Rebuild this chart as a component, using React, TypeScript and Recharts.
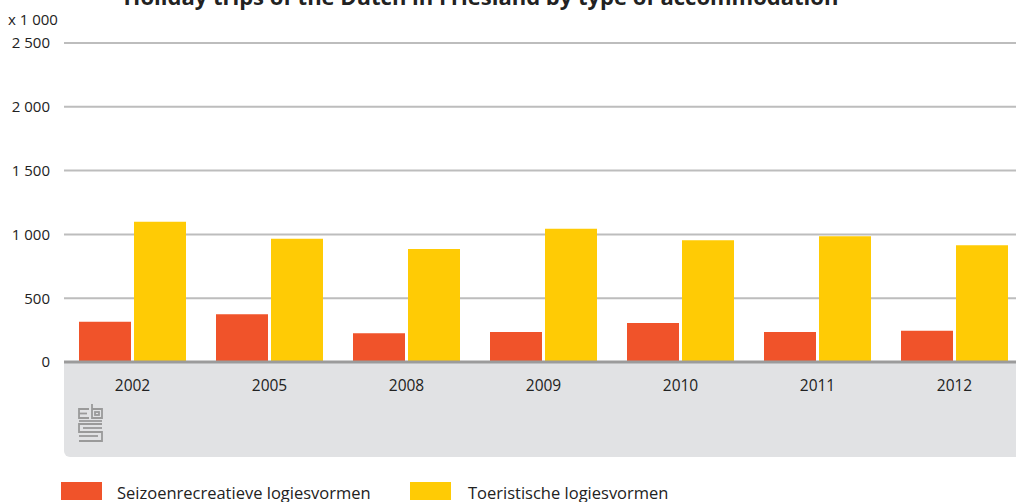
import React from "react";
import { BarChart, Bar, XAxis, YAxis, CartesianGrid } from "recharts";

const years = ["2002", "2005", "2008", "2009", "2010", "2011", "2012"];
const seizoen = [315, 375, 225, 235, 305, 235, 245];
const toeristisch = [1100, 965, 885, 1045, 955, 985, 915];
const yTicks = [0, 500, 1000, 1500, 2000, 2500];
const seriesNames = ["Seizoenrecreatieve logiesvormen", "Toeristische logiesvormen"];
const title = "Holiday trips of the Dutch in Friesland by type of accommodation";
const unitLabel = "x 1 000";

const COLORS = ["#f0532a", "#ffcb05"];
const FONT = "'Open Sans', 'Noto Sans', sans-serif";

const data = years.map((y, i) => ({ year: y, s: seizoen[i], t: toeristisch[i] }));

const fmt = (v: number) => String(v).replace(/\B(?=(\d{3})+(?!\d))/g, " ");

export default function App() {
  return (
    <div style={{ position: "absolute", left: 0, top: 0, width: 1016, height: 502, overflow: "hidden", background: "#fff", fontFamily: FONT }}>
      <div style={{ position: "absolute", left: 64, top: 362, width: 960, height: 95, background: "#e1e2e4", borderBottomLeftRadius: 6 }} />
      <svg style={{ position: "absolute", left: 77, top: 403 }} width={30} height={42}>
        <g fill="none" stroke="#9a9a9a" strokeWidth={1.8}>
          <path d="M12 6 H2 V15 H12" />
          <path d="M2 10.5 H10" />
          <path d="M15 1 V15 H25 V6 H15" />
          <rect x={18} y={9} width={4} height={3} />
          <path d="M2 18 H25" />
          <path d="M25 21 H2 V29 H25 V38 H2" />
          <path d="M6 25 H25" />
          <path d="M2 33 H21" />
        </g>
      </svg>
      <div style={{ position: "absolute", left: 0, top: -19, width: 962, textAlign: "center", fontSize: 22, fontWeight: 700, color: "#222", whiteSpace: "nowrap" }}>{title}</div>
      <div style={{ position: "absolute", left: 8, top: 9, fontSize: 15, color: "#222" }}>{unitLabel}</div>
      <div style={{ position: "absolute", left: 0, top: 0 }}>
        <BarChart width={1023} height={502} data={data} margin={{ top: 43, right: 0, bottom: 110, left: 0 }} barCategoryGap={15} barGap={3}>
          <CartesianGrid vertical={false} stroke="#bdbdbd" strokeWidth={2} />
          <YAxis
            width={64}
            domain={[0, 2500]}
            ticks={yTicks}
            interval={0}
            tickFormatter={fmt}
            axisLine={false}
            tickLine={false}
            tickMargin={8}
            tick={{ fill: "#222", fontSize: 15, fontFamily: FONT }}
          />
          <XAxis
            dataKey="year"
            height={30}
            axisLine={{ stroke: "#9b9b9b", strokeWidth: 3 }}
            tickLine={false}
            tickMargin={12}
            tick={{ fill: "#222", fontSize: 15.5, fontFamily: FONT }}
          />
          <Bar dataKey="s" name={seriesNames[0]} fill={COLORS[0]} isAnimationActive={false} />
          <Bar dataKey="t" name={seriesNames[1]} fill={COLORS[1]} isAnimationActive={false} />
        </BarChart>
      </div>
      <div style={{ position: "absolute", left: 61, top: 482, width: 41, height: 18, background: COLORS[0] }} />
      <div style={{ position: "absolute", left: 117, top: 481, fontSize: 16.5, color: "#222", whiteSpace: "nowrap", lineHeight: "24px" }}>{seriesNames[0]}</div>
      <div style={{ position: "absolute", left: 410, top: 482, width: 41, height: 18, background: COLORS[1] }} />
      <div style={{ position: "absolute", left: 468, top: 481, fontSize: 16.5, color: "#222", whiteSpace: "nowrap", lineHeight: "24px" }}>{seriesNames[1]}</div>
    </div>
  );
}
